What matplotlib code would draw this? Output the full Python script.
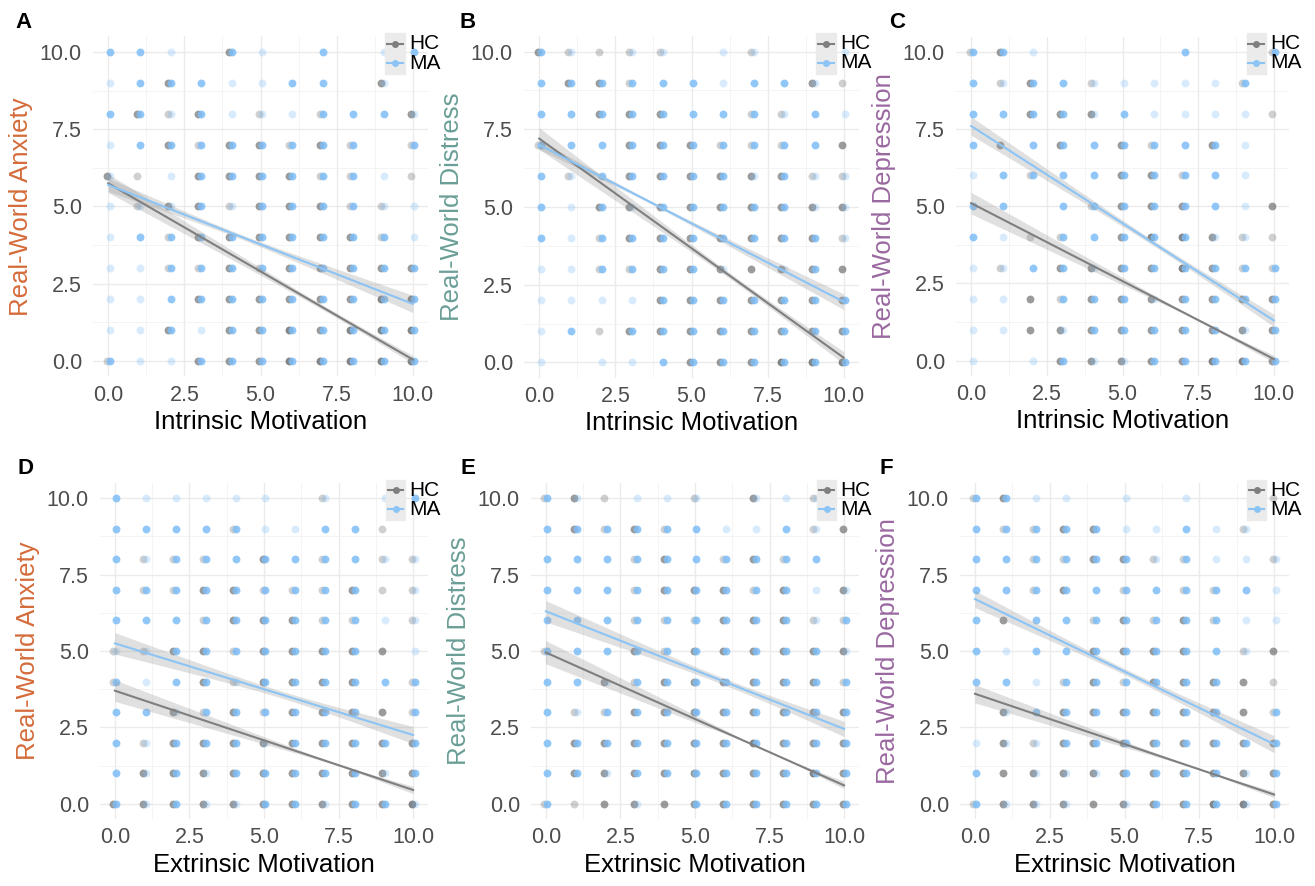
import numpy as np
import matplotlib
matplotlib.use("Agg")
import matplotlib.pyplot as plt
from matplotlib.patches import Rectangle

plt.rcParams['font.family'] = ['Liberation Sans', 'DejaVu Sans']

# x/y scale 0..10, grid values
grid_vals = np.arange(11)
tick_vals = [0.0, 2.5, 5.0, 7.5, 10.0]
tick_labels = ["0.0", "2.5", "5.0", "7.5", "10.0"]

panel_letters = ["A", "B", "C", "D", "E", "F"]
x_titles = ["Intrinsic Motivation"] * 3 + ["Extrinsic Motivation"] * 3
y_titles = ["Real-World Anxiety", "Real-World Distress", "Real-World Depression"] * 2
groups = ["HC", "MA"]

# point density per cell (rows y=10..0, columns x=0..10), 0 = no point
hc_A = ["00002000000", "00200000020", "02120101002", "00212212101", "21022221101", "01221222110",
        "00122222210", "00112122222", "00022222233", "00202232333", "10022233333"]
ma_A = ["22102102012", "12221122010", "22121112221", "12222222202", "10122222210", "11121222211",
        "12222222221", "11222222222", "11222222222", "11212222222", "21122222222"]
hc_B = ["21111001000", "02210000021", "00222001100", "10022211102", "01022222211", "00222222222",
        "00122222221", "00112222222", "00002222222", "00122222222", "00000222333"]
ma_B = ["21011011001", "22222212210", "22222222121", "22222222220", "21222221211", "21212222211",
        "21222222221", "11222210120", "11112222222", "12022222222", "10112222222"]
hc_C = ["12000000001", "01201000010", "00222000001", "02020210200", "00100221000", "00001222002",
        "00110233211", "01022223211", "00212222222", "00222222222", "00022222332"]
ma_C = ["22100002002", "21221111120", "22221211110", "20222222210", "12222222210", "22022222210",
        "21022222110", "11221222222", "11022212222", "11012222212", "10121122222"]
hc_D = ["00000001000", "00001000010", "01110201011", "01122111211", "00012221101", "11221222220",
        "10021222201", "00212122221", "01222222222", "02222222222", "22222222223"]
ma_D = ["21111101012", "22222112200", "21222222211", "22222222201", "22222222211", "11222222201",
        "21221222222", "22122222202", "21222122222", "21212222212", "21211221221"]
hc_E = ["12100102010", "02121000012", "00012012100", "00012221202", "00011122211", "10021222222",
        "00212222221", "01122222222", "02222223222", "02222222232", "11222222222"]
ma_E = ["21011101110", "22222211210", "22222222220", "22222222211", "22222222212", "22222222221",
        "22122222222", "21222222222", "22222222222", "22122222222", "20010222222"]
hc_F = ["12000000001", "01122000010", "00112211001", "00120101100", "02001212100", "00002222012",
        "00012122221", "02022222221", "02122222222", "02222222222", "12222222332"]
ma_F = ["22110101000", "22222112110", "22222212111", "22222222221", "20222222211", "21222222210",
        "22122222200", "01222222202", "11122222222", "20111222212", "21110122212"]

# fitted line value at x=0 and x=10
fit_hc = [[5.75, 0.05], [7.2, 0.15], [5.1, 0.05], [3.7, 0.45], [4.95, 0.6], [3.6, 0.3]]
fit_ma = [[5.7, 1.85], [7.0, 1.95], [7.6, 1.3], [5.25, 2.25], [6.3, 2.45], [6.7, 1.95]]
# confidence band half-width at x=0, 5, 10
band_hc = [[0.3, 0.12, 0.13], [0.35, 0.12, 0.2], [0.35, 0.12, 0.12], [0.35, 0.12, 0.12], [0.38, 0.12, 0.12], [0.3, 0.1, 0.1]]
band_ma = [[0.22, 0.08, 0.28], [0.15, 0.07, 0.25], [0.3, 0.1, 0.2], [0.35, 0.12, 0.28], [0.35, 0.12, 0.25], [0.28, 0.1, 0.28]]

hc_grids = [hc_A, hc_B, hc_C, hc_D, hc_E, hc_F]
ma_grids = [ma_A, ma_B, ma_C, ma_D, ma_E, ma_F]

W, H = 1315, 886
# axes boxes in pixels: left, top, right, bottom
boxes = [(93, 36.5, 428, 376.5), (524, 36, 859, 378), (956, 36.5, 1289, 376),
         (100, 483, 428, 819), (531, 483, 859, 819), (960, 483, 1289, 819)]
letter_pos = [(24, 23), (468, 23), (897, 23), (26, 468), (468, 468), (886, 468)]
y_colors = ["#D46B3A", "#6A9E96", "#9A68A0"] * 2

hc_color = "#666666"
ma_color = "#7DBDF7"
hc_alpha = {1: 0.3, 2: 0.65, 3: 0.8}
ma_alpha = {1: 0.3, 2: 0.85, 3: 1.0}


def draw_points(ax, grid, color, alphas, dx):
    for row, line in enumerate(grid):
        yv = grid_vals[10 - row]
        for col, ch in enumerate(line):
            lvl = int(ch)
            if lvl == 0:
                continue
            ax.scatter(grid_vals[col] + dx, yv, s=32, color=color, alpha=alphas[lvl],
                       linewidths=0, zorder=2)


def draw_fit(ax, ends, band, color):
    xs = np.linspace(0, 10, 100)
    ys = np.interp(xs, [0, 10], ends)
    # band^2 is quadratic in x for a linear fit
    coef = np.polyfit([0, 5, 10], np.array(band) ** 2, 2)
    hw = np.sqrt(np.polyval(coef, xs))
    ax.fill_between(xs, ys - hw, ys + hw, color="#999999", alpha=0.3, linewidth=0, zorder=3)
    ax.plot(xs, ys, color=color, lw=1.5, zorder=4)


fig = plt.figure(figsize=(W / 100, H / 100), dpi=100)

for i in range(6):
    l, t, r, b = boxes[i]
    ax = fig.add_axes([l / W, 1 - b / H, (r - l) / W, (b - t) / H])
    ax.set_xlim(-0.5, 10.5)
    ax.set_ylim(-0.5, 10.5)
    for s in ax.spines.values():
        s.set_visible(False)
    ax.set_xticks(tick_vals)
    ax.set_xticklabels(tick_labels)
    ax.set_yticks(tick_vals)
    ax.set_yticklabels(tick_labels)
    ax.set_xticks([1.25, 3.75, 6.25, 8.75], minor=True)
    ax.set_yticks([1.25, 3.75, 6.25, 8.75], minor=True)
    ax.tick_params(which="both", length=0)
    ax.tick_params(axis="x", pad=6, labelsize=15.5, labelcolor="#4D4D4D")
    ax.tick_params(axis="y", pad=8, labelsize=15.5, labelcolor="#4D4D4D")
    ax.grid(which="major", color="#EBEBEB", lw=1.0, zorder=0)
    ax.grid(which="minor", color="#F2F2F2", lw=0.6, zorder=0)
    ax.set_axisbelow(True)

    draw_points(ax, hc_grids[i], hc_color, hc_alpha, -0.05)
    draw_points(ax, ma_grids[i], ma_color, ma_alpha, 0.05)
    draw_fit(ax, fit_hc[i], band_hc[i], "#7F7F7F")
    draw_fit(ax, fit_ma[i], band_ma[i], "#8CC4F5")

    ax.set_xlabel(x_titles[i], fontsize=18.5, labelpad=3)
    ax.set_ylabel(y_titles[i], fontsize=18.5, color=y_colors[i], labelpad=5)

    # legend drawn by hand, ggplot style keys
    ax.add_patch(Rectangle((0.873, 0.89), 0.057, 0.12, transform=ax.transAxes,
                           color="#EBEBEB", clip_on=False, zorder=5))
    for yy, col, name in [(0.978, "#7F7F7F", groups[0]), (0.922, "#8CC4F5", groups[1])]:
        ax.plot([0.878, 0.925], [yy, yy], transform=ax.transAxes, color=col, lw=1.5,
                clip_on=False, zorder=6)
        ax.plot([0.9015], [yy], "o", transform=ax.transAxes, color=col, ms=4,
                clip_on=False, zorder=6)
        ax.text(0.943, yy, name, transform=ax.transAxes, fontsize=15, va="center",
                ha="left", zorder=6)

    lx, ly = letter_pos[i]
    fig.text(lx / W, 1 - ly / H, panel_letters[i], fontsize=16, fontweight="heavy",
             ha="center", va="center")

fig.savefig("out.png", dpi=100)
